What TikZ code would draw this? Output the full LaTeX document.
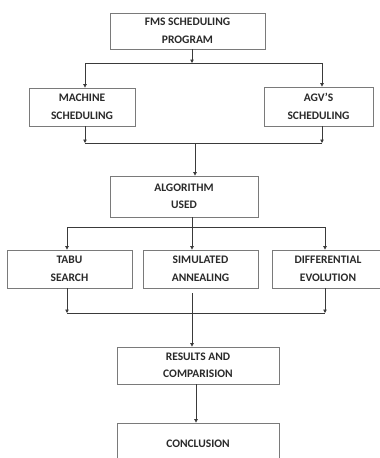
\documentclass[tikz,border=0pt]{standalone}
\usepackage{fontspec}
\setmainfont{Carlito}
\usetikzlibrary{arrows.meta,calc}
\definecolor{boxline}{HTML}{7A7A7A}
\definecolor{conn}{HTML}{3A3A3A}
\definecolor{txt}{HTML}{2A2A2A}
\tikzset{
  box/.style={draw=boxline, line width=0.8pt, fill=white, align=center, inner sep=0pt,
    font=\bfseries\fontsize{11.5}{17.5}\selectfont, text=txt},
  conline/.style={draw=conn, line width=0.8pt},
  arr/.style={conline, -{Triangle[length=3.5pt,width=3.5pt]}}
}
\begin{document}
\begin{tikzpicture}[x=1pt,y=-1pt]
\useasboundingbox (0,0) rectangle (380,458);
\begin{scope}
\clip (0,0) rectangle (380,458);
\node[box, minimum width=155pt, minimum height=36pt] (fms) at (187.5,31) {FMS SCHEDULING\\PROGRAM};
\node[box, minimum width=106pt, minimum height=38pt] (mach) at (82,107) {MACHINE\\SCHEDULING};
\node[box, minimum width=109pt, minimum height=39pt] (agv) at (318.5,106.5) {AGV'S\\SCHEDULING};
\node[box, minimum width=148pt, minimum height=41pt] (algo) at (184,196.5) {ALGORITHM\\USED};
\node[box, minimum width=125pt, minimum height=38pt] (tabu) at (69.5,269) {TABU\\SEARCH};
\node[box, minimum width=115pt, minimum height=38pt] (sa) at (200.5,269) {SIMULATED\\ANNEALING};
\node[box, minimum width=112pt, minimum height=38pt] (de) at (328,269) {DIFFERENTIAL\\EVOLUTION};
\node[box, minimum width=162pt, minimum height=37pt] (res) at (198,365.5) {RESULTS AND\\COMPARISION};
\node[box, minimum width=162pt, minimum height=50pt] (conc) at (198,448) {};
\node[box, draw=none, fill=none] (conctext) at (198,444) {CONCLUSION};

% junction coordinates
\coordinate (j1) at (192,63);
\coordinate (j1l) at (85,63);
\coordinate (j1r) at (322,63);
\coordinate (j2l) at (85,143);
\coordinate (j2r) at (322,143);
\coordinate (j2) at (195,143);
\coordinate (j3) at (192,227);
\coordinate (j3l) at (67,227);
\coordinate (j3r) at (325,227);
\coordinate (j4l) at (67,313);
\coordinate (j4r) at (325,313);
\coordinate (j4) at (192,313);
\coordinate (j5) at (196,384);

% level 1
\draw[arr] (fms.south -| j1) -- (j1);
\draw[conline] (j1l) -- (j1r);
\draw[arr] (j1l) -- (mach.north -| j1l);
\draw[arr] (j1r) -- (agv.north -| j1r);
% level 2
\draw[arr] (mach.south -| j2l) -- (j2l);
\draw[arr] (agv.south -| j2r) -- (j2r);
\draw[conline] (j2l) -- (j2r);
\draw[arr] (j2) -- (algo.north -| j2);
% level 3
\draw[conline] (algo.south -| j3) -- (j3);
\draw[conline] (j3l) -- (j3r);
\draw[arr] (j3l) -- (tabu.north -| j3l);
\draw[arr] (j3) -- (sa.north -| j3);
\draw[arr] (j3r) -- (de.north -| j3r);
% level 4
\draw[arr] (tabu.south -| j4l) -- (j4l);
\draw[arr] (de.south -| j4r) -- (j4r);
\draw[conline] (j4l) -- (j4r);
\draw[arr] ($(sa.south -| j4)+(0,5)$) -- (res.north -| j4);
% level 5
\draw[arr] (res.south -| j5) -- (conc.north -| j5);
\end{scope}
\end{tikzpicture}
\end{document}
